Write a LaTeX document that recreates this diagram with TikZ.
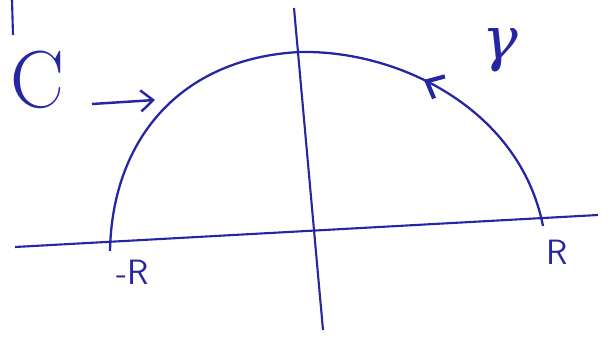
\documentclass[tikz,border=0pt]{standalone}
\usepackage{fontspec}
\newfontfamily\grec{DejaVu Serif}
\usetikzlibrary{arrows.meta,decorations.markings}
\definecolor{ink}{RGB}{38,38,165}
\begin{document}
\begin{tikzpicture}[x=0.02cm, y=-0.02cm,
    axe/.style={draw=ink, line width=1.2pt},
    contour/.style={draw=ink, line width=1.3pt, postaction={decorate},
        decoration={markings, mark=at position 0.31 with {\arrow{Straight Barb[length=8pt, width=14pt, line width=2.4pt]}}}},
    lbl/.style={text=ink, inner sep=0pt, font=#1},
    fleche/.style={-{Straight Barb[length=7pt, width=12pt]}, draw=ink, line width=1.4pt}
]
    \useasboundingbox (0,0) rectangle (613,337);

    % Axes
    \coordinate (xg) at (15,247);
    \coordinate (xd) at (598,215);
    \coordinate (yh) at (294,8);
    \coordinate (yb) at (323,330);
    \draw[axe] (xg) -- (xd);
    \draw[axe] (yh) -- (yb);
    \draw[axe] (12,0) -- (13,35);

    % Contour gamma
    \coordinate (mR) at (110,251);
    \coordinate (pR) at (543,226);
    \coordinate (sommet) at (300,52);
    \draw[contour] (pR) .. controls (520,110) and (400,50) .. (sommet)
        .. controls (180,58) and (112,140) .. (mR);

    % Labels
    \node[lbl=\fontsize{46}{46}\rmfamily] (C) at (37,80) {C};
    \node[lbl=\fontsize{34}{34}\grec\itshape] (gamma) at (500,50) {γ};
    \node[lbl=\fontsize{20}{20}\sffamily] (lmR) at (133,272) {-R};
    \node[lbl=\fontsize{20}{20}\sffamily] (lpR) at (557,252) {R};

    % Fleche vers C
    \coordinate (depart) at (92,104);
    \coordinate (cible) at (155,100);
    \draw[fleche] (depart) -- (cible);
\end{tikzpicture}
\end{document}
